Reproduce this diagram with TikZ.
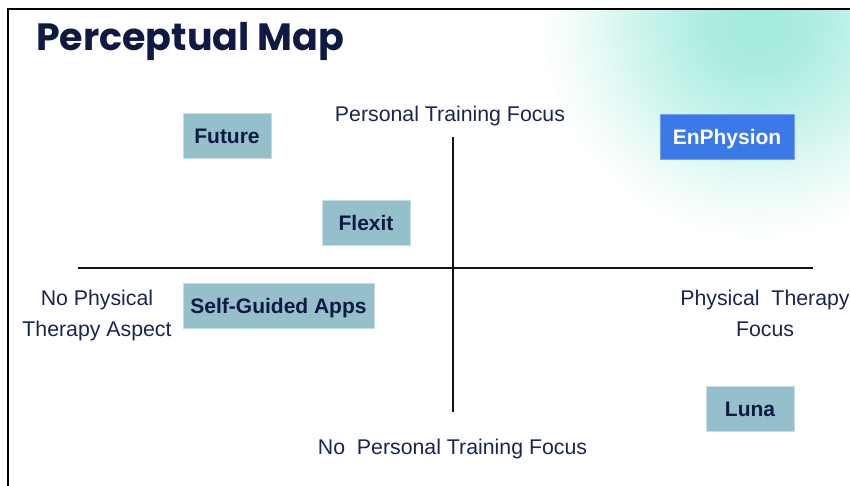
\documentclass[tikz,border=0pt]{standalone}
\usepackage{fontspec}
\setmainfont{Liberation Sans}
\newfontfamily\titlefont{Poppins}
\definecolor{navy}{HTML}{0E1A44}
\definecolor{labelc}{HTML}{1B2452}
\definecolor{boxc}{HTML}{94BFCB}
\definecolor{enph}{HTML}{3B78E8}
\definecolor{glowc}{HTML}{A3EBDD}
\pgfdeclareradialshading{glow}{\pgfpoint{0bp}{0bp}}{%
  color(0bp)=(glowc); color(6bp)=(glowc!90!white); color(12bp)=(glowc!62!white);
  color(18bp)=(glowc!30!white); color(22bp)=(glowc!10!white);
  color(25bp)=(white); color(50bp)=(white)}
\begin{document}
\begin{tikzpicture}[x=1pt,y=-1pt,
  brand/.style={fill=boxc, draw=boxc!55!white, line width=0.6pt,
    font=\fontsize{21}{21}\selectfont\bfseries, text=navy,
    text height=15pt, text depth=0pt, inner sep=0pt, minimum height=45pt},
  axislabel/.style={font=\fontsize{21.3}{31}\selectfont, text=labelc,
    inner sep=0pt, align=center, anchor=base},
  axis/.style={line width=2pt, draw=black!92}]
\useasboundingbox (0,0) rectangle (850,485);
% soft teal glow in the top right corner
\begin{scope}
  \clip (9,10) rectangle (850,485);
  \shade[shading=glow] (758,20) circle (220);
\end{scope}
% frame
\draw[line width=2.5pt] (8,486) -- (8,9) -- (851,9);
% title
\node[anchor=base west, inner sep=0pt, text=navy,
  font=\titlefont\bfseries\fontsize{38}{38}\selectfont] (title) at (36,50) {Perceptual Map};
% axes
\coordinate (xl) at (78,268);
\coordinate (xr) at (813,268);
\coordinate (yt) at (453,137);
\coordinate (yb) at (453,412);
\draw[axis] (xl) -- (xr);
\draw[axis] (yt) -- (yb);
% axis labels (base anchor sits on the last line)
\node[axislabel] (top) at (450,121) {Personal Training Focus};
\node[axislabel] (bottom) at (452.5,454) {No~~Personal Training Focus};
\node[axislabel] (left) at (97,336) {No Physical\\Therapy Aspect};
\node[axislabel] (right) at (765,336) {Physical~~Therapy\\Focus};
% brands
\node[brand, minimum width=88pt] (future) at (227,135.5) {Future};
\node[brand, minimum width=88pt] (flexit) at (366,222.5) {Flexit};
\node[brand, minimum width=191pt] (selfguided) at (278.5,306) {Self-Guided Apps};
\node[brand, minimum width=88pt] (luna) at (750,409) {Luna};
\node[brand, minimum width=134pt, fill=enph, draw=enph!70!white, text=white] (enphysion) at (727,137) {EnPhysion};
\end{tikzpicture}
\end{document}
